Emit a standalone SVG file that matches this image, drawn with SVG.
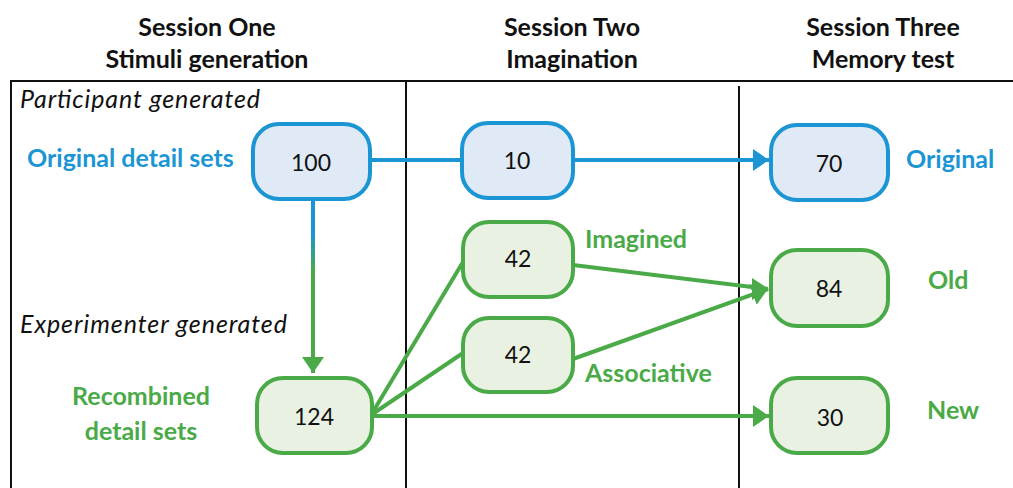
<svg xmlns="http://www.w3.org/2000/svg" width="1013" height="488" viewBox="0 0 1013 488">
  <style>
    .head { font-family: Lato, "Open Sans", sans-serif; font-weight: bold; font-size: 25px; fill: #111; text-anchor: middle; }
    .note { font-family: Lato, "Open Sans", sans-serif; font-style: italic; font-size: 25px; fill: #111; }
    .lbl-b { font-family: Lato, "Open Sans", sans-serif; font-weight: bold; font-size: 25px; fill: #1b95d3; }
    .lbl-g { font-family: Lato, "Open Sans", sans-serif; font-weight: bold; font-size: 25px; fill: #4aaa48; }
    .num { font-family: Lato, "Open Sans", sans-serif; font-size: 23px; fill: #111; text-anchor: middle; dominant-baseline: central; }
    .frame { stroke: #111; stroke-width: 2; fill: none; }
    .box-b { fill: #dfeaf6; stroke: #1b95d3; stroke-width: 4; }
    .box-g { fill: #e9f1e3; stroke: #4aaa48; stroke-width: 4; }
    .ln-b { stroke: #1b95d3; stroke-width: 4; fill: none; }
    .ln-g { stroke: #4aaa48; stroke-width: 4; fill: none; }
  </style>
  <defs>
    <marker id="arrB" markerUnits="userSpaceOnUse" markerWidth="20" markerHeight="26" refX="16" refY="13" orient="auto">
      <path d="M0,2 L16,13 L0,24 Z" fill="#1b95d3"/>
    </marker>
    <marker id="arrG" markerUnits="userSpaceOnUse" markerWidth="20" markerHeight="26" refX="16" refY="13" orient="auto">
      <path d="M0,2 L16,13 L0,24 Z" fill="#4aaa48"/>
    </marker>
    <linearGradient id="blueToGreen" gradientUnits="userSpaceOnUse" x1="0" y1="235" x2="0" y2="270">
      <stop offset="0" stop-color="#1b95d3"/>
      <stop offset="1" stop-color="#4aaa48"/>
    </linearGradient>
  </defs>

  <rect width="1013" height="488" fill="#ffffff"/>

  <!-- session headers -->
  <g id="headers">
    <text class="head" x="207" y="36">Session One</text>
    <text class="head" x="207" y="68">Stimuli generation</text>
    <text class="head" x="572" y="36">Session Two</text>
    <text class="head" x="572" y="68">Imagination</text>
    <text class="head" x="883" y="36">Session Three</text>
    <text class="head" x="883" y="68">Memory test</text>
  </g>

  <!-- table frame -->
  <g id="frame">
    <line class="frame" x1="10" y1="81" x2="1013" y2="81"/>
    <line class="frame" x1="11" y1="80" x2="11" y2="488"/>
    <line class="frame" x1="406" y1="81" x2="406" y2="488"/>
    <line class="frame" x1="739" y1="86" x2="739" y2="488"/>
  </g>

  <!-- side labels -->
  <g id="labels">
    <text class="note" x="20" y="108" textLength="240" lengthAdjust="spacing">Participant generated</text>
    <text class="note" x="20" y="333" textLength="267" lengthAdjust="spacing">Experimenter generated</text>
    <text class="lbl-b" x="27" y="167">Original detail sets</text>
    <text class="lbl-g" x="141" y="405" text-anchor="middle">Recombined</text>
    <text class="lbl-g" x="141" y="440" text-anchor="middle">detail sets</text>
    <text class="lbl-g" x="585" y="248">Imagined</text>
    <text class="lbl-g" x="585" y="382">Associative</text>
    <text class="lbl-b" x="906" y="168">Original</text>
    <text class="lbl-g" x="928" y="289">Old</text>
    <text class="lbl-g" x="927" y="419">New</text>
  </g>

  <!-- connectors -->
  <g id="connectors">
    <line class="ln-b" x1="370" y1="160" x2="462" y2="160"/>
    <line class="ln-b" x1="573" y1="160" x2="769" y2="160" marker-end="url(#arrB)"/>
    <line x1="313" y1="199" x2="313" y2="373" stroke="url(#blueToGreen)" stroke-width="4" marker-end="url(#arrG)"/>
    <line class="ln-g" x1="371" y1="415" x2="463" y2="262"/>
    <line class="ln-g" x1="371" y1="415" x2="463" y2="353"/>
    <line class="ln-g" x1="371" y1="416" x2="769" y2="416" marker-end="url(#arrG)"/>
    <line class="ln-g" x1="573" y1="265" x2="768" y2="289"/>
    <line class="ln-g" x1="573" y1="359" x2="768" y2="289" marker-end="url(#arrG)"/>
    <path d="M752,278 L769,289 L752,300 Z" fill="#4aaa48"/>
  </g>

  <!-- nodes -->
  <g id="node-100">
    <rect class="box-b" x="253" y="124" width="117" height="75" rx="26"/>
    <text class="num" x="311" y="162">100</text>
  </g>
  <g id="node-10">
    <rect class="box-b" x="462" y="123" width="111" height="75" rx="26"/>
    <text class="num" x="517" y="160">10</text>
  </g>
  <g id="node-70">
    <rect class="box-b" x="771" y="125" width="117" height="75" rx="26"/>
    <text class="num" x="829" y="163">70</text>
  </g>
  <g id="node-124">
    <rect class="box-g" x="257" y="378" width="115" height="75" rx="26"/>
    <text class="num" x="314" y="416">124</text>
  </g>
  <g id="node-42a">
    <rect class="box-g" x="463" y="222" width="110" height="75" rx="26"/>
    <text class="num" x="518" y="258">42</text>
  </g>
  <g id="node-42b">
    <rect class="box-g" x="463" y="318" width="110" height="74" rx="26"/>
    <text class="num" x="518" y="354">42</text>
  </g>
  <g id="node-84">
    <rect class="box-g" x="771" y="250" width="117" height="76" rx="26"/>
    <text class="num" x="829" y="288">84</text>
  </g>
  <g id="node-30">
    <rect class="box-g" x="771" y="378" width="117" height="75" rx="26"/>
    <text class="num" x="830" y="417">30</text>
  </g>
</svg>
